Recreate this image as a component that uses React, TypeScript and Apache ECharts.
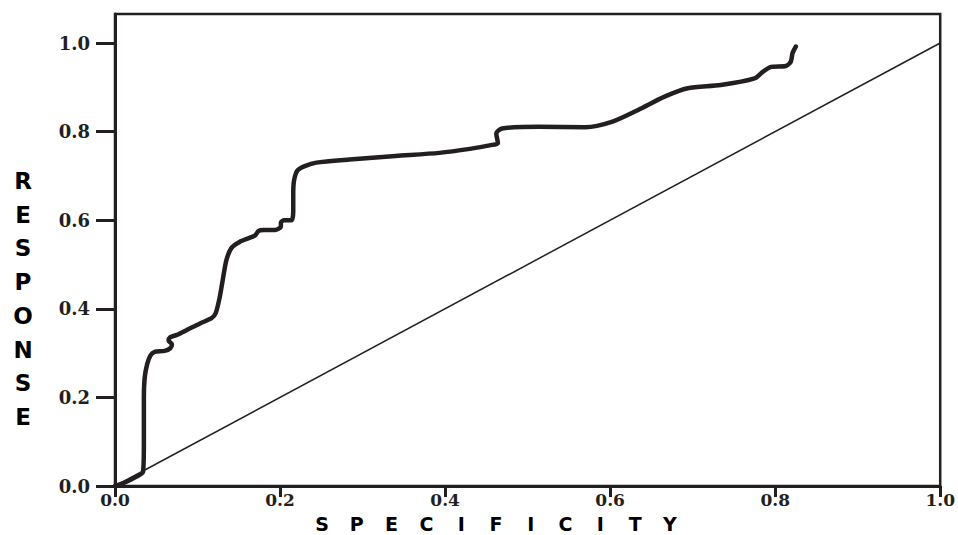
import React, { useEffect, useRef } from "react";
import * as echarts from "echarts";

const xTicks = [0, 0.2, 0.4, 0.6, 0.8, 1.0];
const yTicks = [0, 0.2, 0.4, 0.6, 0.8, 1.0];
const xTitle = "SPECIFICITY";
const yTitle = "RESPONSE";

// ROC curve (specificity, response)
const curveX = [
  0, 0.012, 0.025, 0.034, 0.035, 0.035, 0.036, 0.039, 0.043, 0.048, 0.06,
  0.067, 0.069, 0.065, 0.067, 0.075, 0.087, 0.103, 0.117, 0.122, 0.127,
  0.131, 0.135, 0.141, 0.151, 0.163, 0.17, 0.174, 0.18, 0.194, 0.201, 0.201,
  0.205, 0.214, 0.216, 0.216, 0.217, 0.221, 0.23, 0.244, 0.284, 0.34, 0.393,
  0.43, 0.457, 0.464, 0.462, 0.469, 0.513, 0.57, 0.602, 0.634, 0.666, 0.694,
  0.734, 0.775, 0.785, 0.795, 0.813, 0.819, 0.821, 0.825,
];
const curveY = [
  0, 0.008, 0.02, 0.032, 0.1, 0.2, 0.245, 0.275, 0.295, 0.303, 0.305, 0.311,
  0.32, 0.328, 0.336, 0.341, 0.352, 0.367, 0.379, 0.39, 0.427, 0.47, 0.51,
  0.537, 0.551, 0.56, 0.566, 0.576, 0.578, 0.578, 0.585, 0.595, 0.6, 0.6,
  0.62, 0.66, 0.69, 0.712, 0.722, 0.73, 0.737, 0.745, 0.752, 0.761, 0.77,
  0.774, 0.796, 0.807, 0.811, 0.81, 0.822, 0.849, 0.879, 0.898, 0.905, 0.92,
  0.935, 0.946, 0.948, 0.958, 0.977, 0.992,
];
// reference diagonal
const diagX = [0, 1];
const diagY = [0, 1];

const INK = "#231f20";

export default function App() {
  const ref = useRef<HTMLDivElement>(null);
  useEffect(() => {
    if (!ref.current) return;
    const chart = echarts.init(ref.current, null, { renderer: "svg" });
    const letterRich = {
      l: {
        width: 34.8,
        align: "center",
        fontFamily: "DejaVu Sans",
        fontWeight: "bold",
        fontSize: 19,
        lineHeight: 18,
        color: "#000",
      },
    };
    chart.setOption({
      animation: false,
      backgroundColor: "#ffffff",
      grid: {
        left: 115,
        right: 14,
        top: 14,
        bottom: 49,
        show: true,
        borderColor: INK,
        borderWidth: 2.5,
        backgroundColor: "transparent",
      },
      xAxis: {
        type: "value",
        min: 0,
        max: 1,
        splitLine: { show: false },
        axisLine: { show: true, onZero: false, lineStyle: { color: INK, width: 3 } },
        axisTick: { show: true, inside: false, length: 11, customValues: xTicks, lineStyle: { color: INK, width: 3 } },
        axisLabel: {
          customValues: xTicks,
          margin: 5,
          formatter: (v: number) => v.toFixed(1),
          fontFamily: "DejaVu Serif",
          fontWeight: "bold",
          fontSize: 17,
          color: INK,
        },
      },
      yAxis: {
        type: "value",
        min: 0,
        max: 1.0655,
        splitLine: { show: false },
        axisLine: { show: true, onZero: false, lineStyle: { color: INK, width: 3 } },
        axisTick: { show: true, inside: false, length: 19, customValues: yTicks, lineStyle: { color: INK, width: 3 } },
        axisLabel: {
          customValues: yTicks,
          margin: 25,
          formatter: (v: number) => v.toFixed(1),
          fontFamily: "DejaVu Serif",
          fontWeight: "bold",
          fontSize: 18,
          color: INK,
        },
      },
      graphic: [
        {
          type: "text",
          x: 496,
          y: 524,
          style: {
            text: xTitle.split("").map((c) => `{l|${c}}`).join(""),
            rich: letterRich,
            align: "center",
            verticalAlign: "middle",
          },
        },
        {
          type: "text",
          x: 23,
          y: 299,
          style: {
            text: yTitle.split("").join("\n"),
            fontFamily: "DejaVu Sans",
            fontWeight: "bold",
            fontSize: 23,
            lineHeight: 33.7,
            fill: "#000",
            align: "center",
            verticalAlign: "middle",
          },
        },
      ],
      series: [
        {
          type: "line",
          data: diagX.map((x, i) => [x, diagY[i]]),
          symbol: "none",
          lineStyle: { color: INK, width: 1.5 },
          silent: true,
        },
        {
          type: "line",
          data: curveX.map((x, i) => [x, curveY[i]]),
          symbol: "none",
          smooth: 0.25,
          lineStyle: { color: INK, width: 4.5, cap: "round", join: "round" },
          silent: true,
        },
      ],
    });
    return () => chart.dispose();
  }, []);
  return <div ref={ref} style={{ width: 958, height: 535, position: "absolute", left: 0, top: 0 }} />;
}
